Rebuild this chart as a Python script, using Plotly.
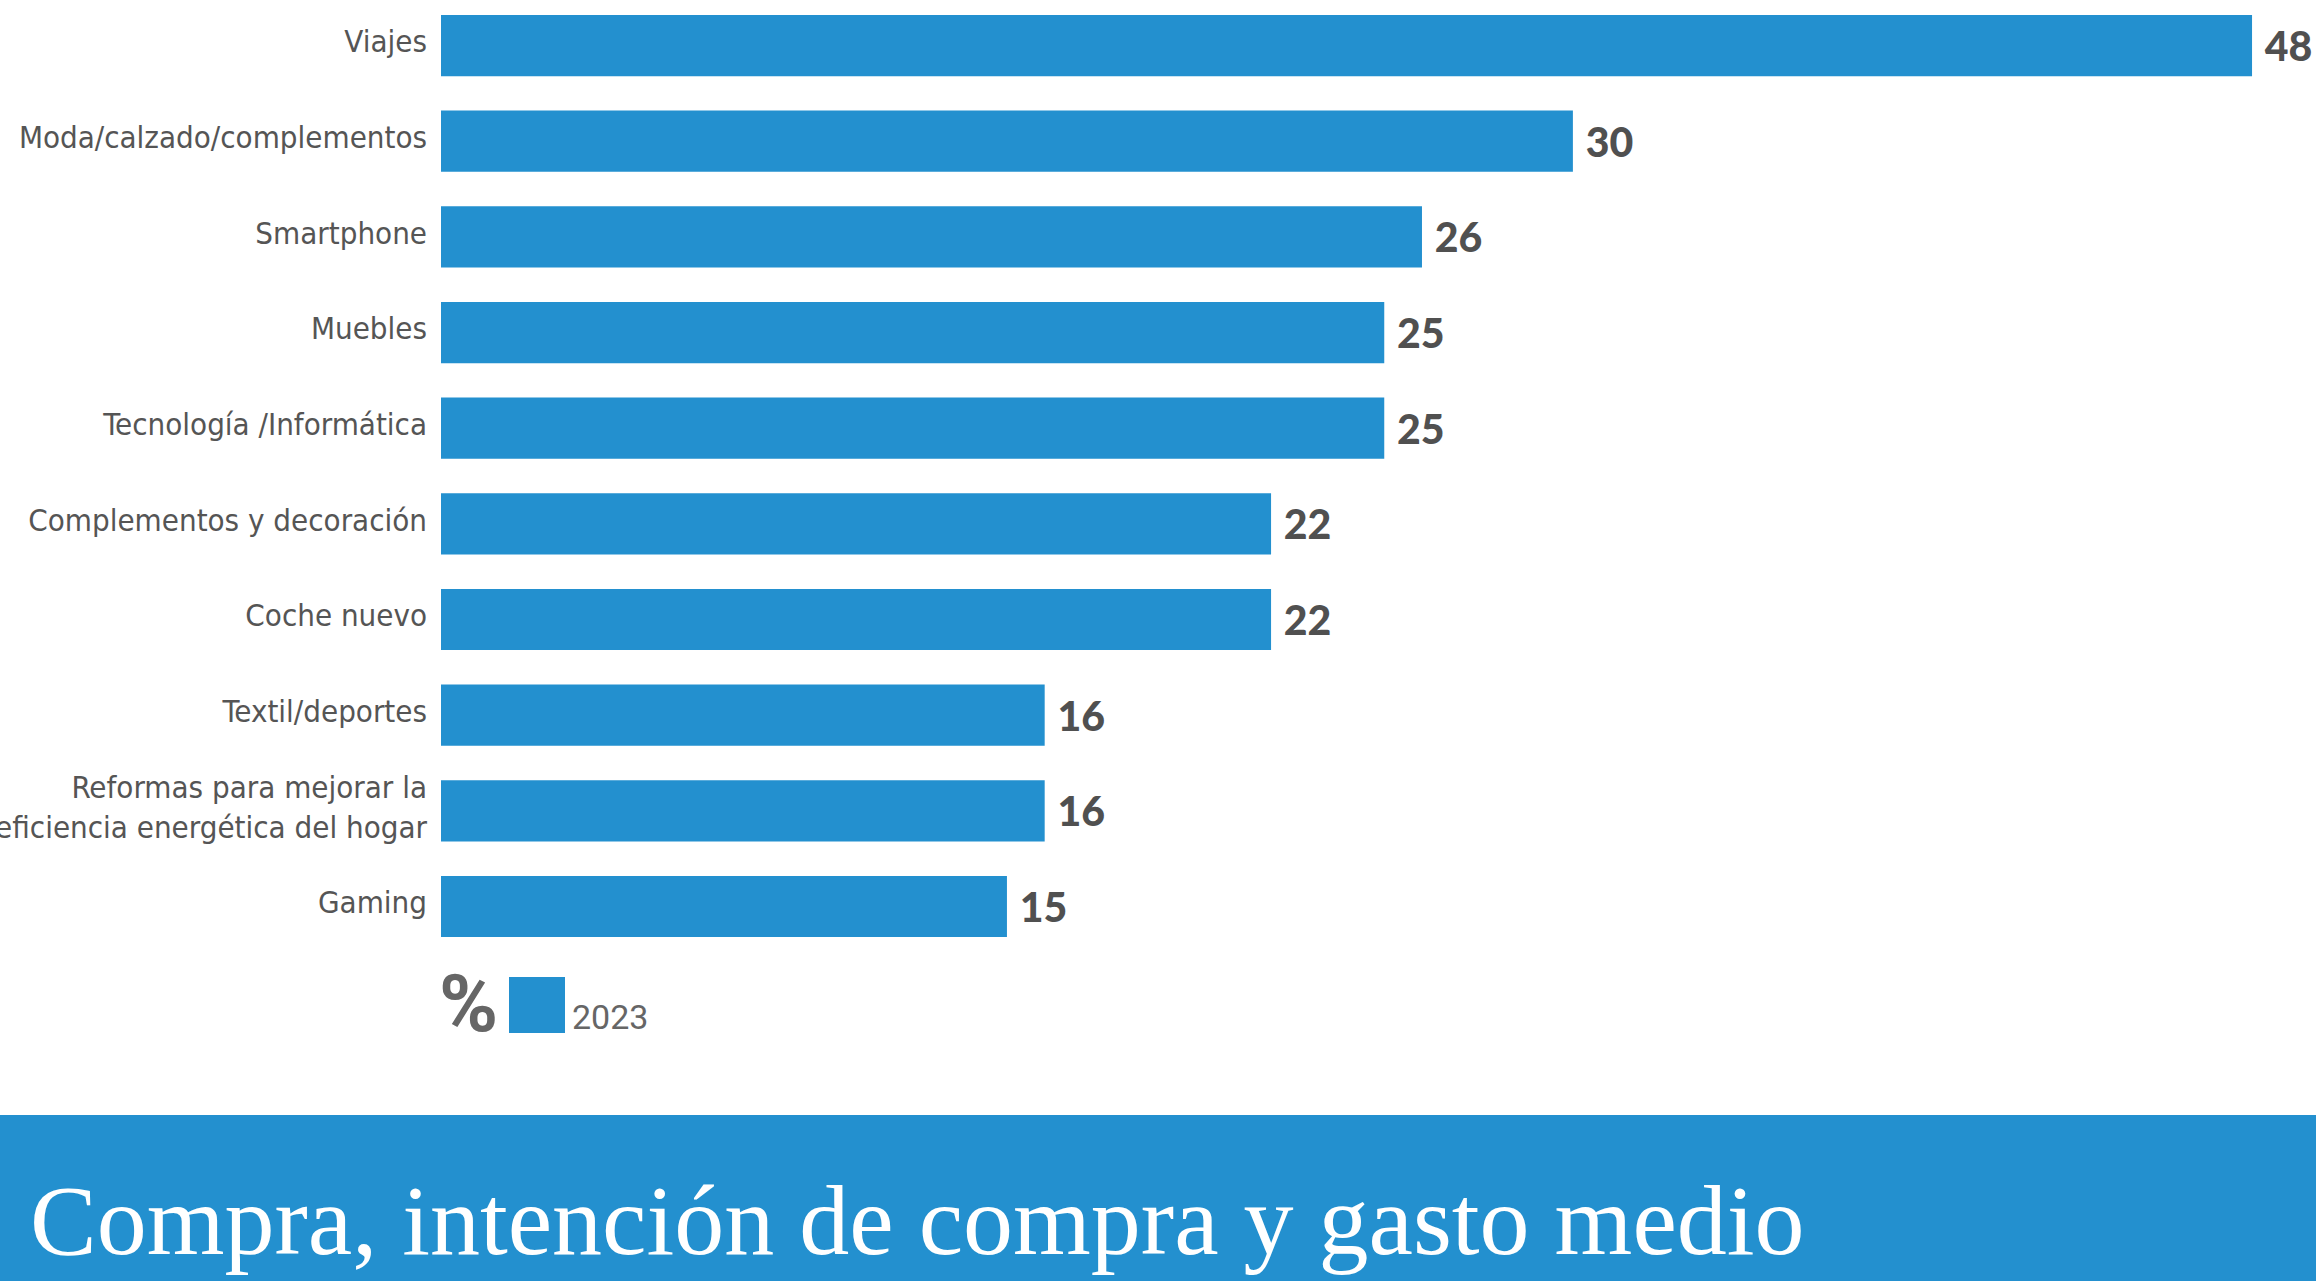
import plotly.graph_objects as go

categories = [
    "Viajes",
    "Moda/calzado/complementos",
    "Smartphone",
    "Muebles",
    "Tecnología /Informática",
    "Complementos y decoración",
    "Coche nuevo",
    "Textil/deportes",
    "Reformas para mejorar la<br>eficiencia energética del hogar",
    "Gaming",
]
values_2023 = [48, 30, 26, 25, 25, 22, 22, 16, 16, 15]
series_name = "2023"
unit_label = "%"
title_text = "Compra, intención de compra y gasto medio"

BLUE = "#2390cf"
W, H = 2316, 1281


def px_x(p):
    return p / W


def px_y(p):
    return 1 - p / H


fig = go.Figure(
    go.Bar(
        y=categories,
        x=values_2023,
        orientation="h",
        name=series_name,
        marker=dict(color=BLUE, line=dict(width=0)),
        text=values_2023,
        texttemplate="\u00a0%{x}",
        textposition="outside",
        constraintext="none",
        cliponaxis=False,
        textfont=dict(family="Lato", size=41, color="#505050", weight=900),
        showlegend=False,
    )
)

fig.update_layout(
    width=W,
    height=H,
    margin=dict(l=0, r=0, t=0, b=0, autoexpand=False),
    plot_bgcolor="white",
    paper_bgcolor="white",
    bargap=0.36,
    xaxis=dict(
        domain=[px_x(441), 1],
        range=[0, 1875 / 37.73],
        visible=False,
    ),
    yaxis=dict(
        domain=[px_y(957), 1],
        range=[9.528, -0.476],
        showgrid=False,
        showline=False,
        zeroline=False,
        ticks="",
        ticklabelstandoff=13,
        ticklabelshift=4,
        tickfont=dict(
            family="Liberation Sans Narrow, DejaVu Sans Condensed, Roboto",
            size=31,
            color="#555555",
        ),
        automargin=False,
    ),
    shapes=[
        # legend key
        dict(
            type="rect", xref="paper", yref="paper",
            x0=px_x(509), x1=px_x(565), y0=px_y(1033), y1=px_y(977),
            fillcolor=BLUE, line=dict(width=0),
        ),
        # bottom banner
        dict(
            type="rect", xref="paper", yref="paper",
            x0=0, x1=1, y0=0, y1=px_y(1115),
            fillcolor=BLUE, line=dict(width=0),
        ),
    ],
    annotations=[
        dict(
            text=unit_label, xref="paper", yref="paper",
            x=px_x(468), y=px_y(1004), xanchor="center", yanchor="middle",
            showarrow=False,
            font=dict(family="Roboto", size=80, color="#666666", weight="bold"),
        ),
        dict(
            text=series_name, xref="paper", yref="paper",
            x=px_x(570), y=px_y(1017), xanchor="left", yanchor="middle",
            showarrow=False,
            font=dict(family="Roboto", size=34, color="#666666"),
        ),
        dict(
            text=title_text, xref="paper", yref="paper",
            x=px_x(28), y=px_y(1220), xanchor="left", yanchor="middle",
            showarrow=False,
            font=dict(family="Liberation Serif", size=100, color="white"),
        ),
    ],
)

# drop the browser's default page margin so the figure fills the window
fig.write_html(
    "out.html",
    config={"displayModeBar": False},
    post_script="document.body.style.margin='0';",
)
